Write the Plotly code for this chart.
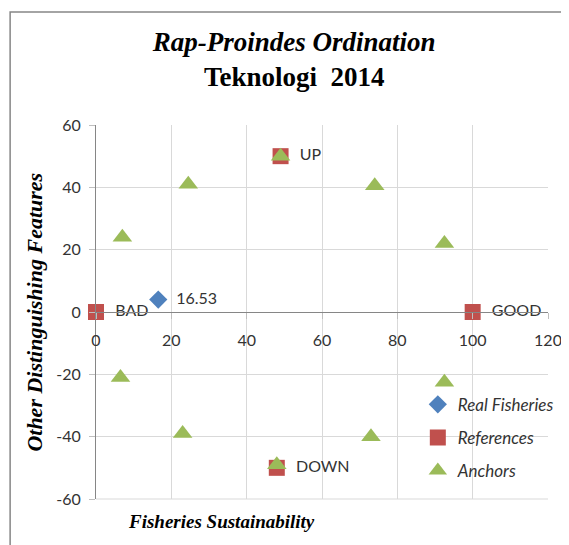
import plotly.graph_objects as go

# --- data -----------------------------------------------------------
real_x = [16.53]
real_y = [4]
real_lbl = ["16.53"]

ref_x = [0, 100, 49, 48]
ref_y = [0, 0, 50, -50]
ref_lbl = ["BAD", "GOOD", "UP", "DOWN"]

anchor_x = [7, 24.5, 49, 74, 92.5, 6.5, 23, 48, 73, 92.5]
anchor_y = [24, 41, 50, 40.5, 22, -21, -39, -49, -40, -22.5]

x_ticks = [0, 20, 40, 60, 80, 100, 120]
y_ticks = [-60, -40, -20, 0, 20, 40, 60]

BLUE, RED, GREEN = "#4F81BD", "#C0504D", "#9BBB59"
TXT = "#333333"
SANS = "Lato, Liberation Sans, sans-serif"
SERIF = "Liberation Serif, Times New Roman, serif"
LBL_FONT = dict(family=SANS, size=16, color=TXT)

fig = go.Figure()
fig.add_trace(go.Scatter(
    x=real_x, y=real_y, text=["  " + s for s in real_lbl], mode="markers+text",
    textposition="middle right", textfont=LBL_FONT, cliponaxis=False,
    name="<i>Real Fisheries</i>", legendgroup="a",
    marker=dict(symbol="diamond", size=14, color=BLUE),
))
fig.add_trace(go.Scatter(
    x=ref_x, y=ref_y, text=["  " + s for s in ref_lbl], mode="markers+text",
    textposition="middle right", textfont=LBL_FONT, cliponaxis=False,
    name="<i>References</i>", legendgroup="b",
    marker=dict(symbol="square", size=16, color=RED),
))
fig.add_trace(go.Scatter(
    x=anchor_x, y=anchor_y, mode="markers", cliponaxis=False,
    name="<i>Anchors</i>", legendgroup="c",
    marker=dict(symbol="triangle-up", size=17, color=GREEN),
))

# the page adds an 8px body margin, so margins are shifted to compensate
fig.update_layout(
    width=569, height=545,
    margin=dict(l=88, r=29, t=117, b=54),
    plot_bgcolor="white", paper_bgcolor="white",
    font=dict(family=SANS, size=16, color=TXT),
    title=dict(
        text="<b><i>Rap-Proindes Ordination</i><br>Teknologi  2014</b>",
        x=0.503, xanchor="center", y=0.922, yanchor="top",
        font=dict(family=SERIF, size=27, color="black"),
    ),
    legend=dict(
        x=0.712, y=0.30, xanchor="left", yanchor="top",
        bgcolor="rgba(0,0,0,0)", tracegroupgap=8,
        font=dict(family=SANS, size=17, color=TXT),
    ),
    showlegend=True,
)
fig.update_xaxes(
    range=[0, 120], tickvals=x_ticks, ticktext=[str(v) for v in x_ticks],
    showgrid=True, gridcolor="#D9D9D9",
    zeroline=False, showline=True, linecolor="#868686",
    anchor="free", position=0.5, ticks="outside", ticklen=6, tickcolor="#BFBFBF",
    ticklabelstandoff=8, tickfont=LBL_FONT,
)
fig.update_yaxes(
    range=[-60, 60], tickvals=y_ticks, ticktext=[str(v) for v in y_ticks],
    showgrid=True, gridcolor="#D9D9D9",
    zeroline=False, showline=True, linecolor="#868686",
    ticks="outside", ticklen=6, tickcolor="#BFBFBF",
    ticklabelstandoff=5, tickfont=LBL_FONT,
)

# bottom grid line at -60 and outer chart border
fig.add_shape(type="line", xref="paper", yref="paper", x0=0, x1=1, y0=0, y1=0,
              line=dict(color="#D9D9D9", width=1))
fig.add_shape(type="rect", xref="paper", yref="paper",
              x0=-0.19, x1=1.2, y0=-0.3, y1=1.302,
              line=dict(color="#868686", width=1.5), layer="below")

fig.add_annotation(
    text="<b><i>Other Distinguishing Features</i></b>", textangle=-90,
    xref="paper", yref="paper", x=-0.138, y=0.5, xanchor="center", yanchor="middle",
    showarrow=False, font=dict(family=SERIF, size=22, color="black"),
)
fig.add_annotation(
    text="<b><i>Fisheries Sustainability</i></b>",
    xref="paper", yref="paper", x=0.277, y=-0.059, xanchor="center", yanchor="middle",
    showarrow=False, font=dict(family=SERIF, size=19, color="black"),
)

fig.write_html("out.html")
